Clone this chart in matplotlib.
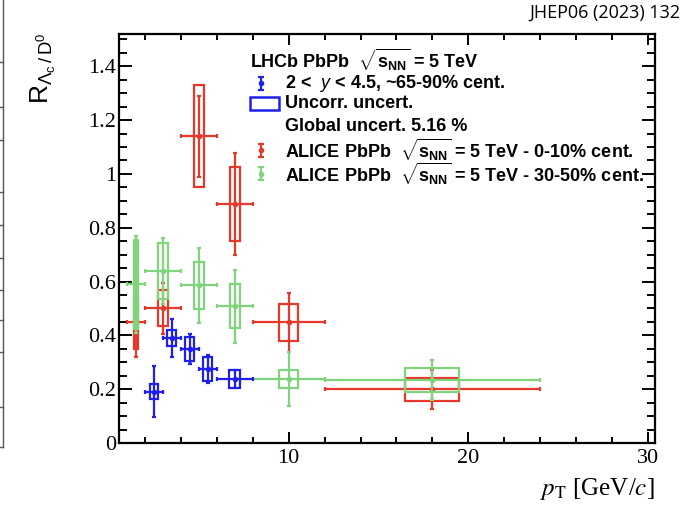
import numpy as np
import matplotlib
matplotlib.use("Agg")
import matplotlib.pyplot as plt
from matplotlib.patches import Rectangle
from matplotlib.lines import Line2D

plt.rcParams['mathtext.fontset'] = 'custom'
plt.rcParams['mathtext.rm'] = 'Liberation Sans'
plt.rcParams['mathtext.bf'] = 'Liberation Sans:bold'
plt.rcParams['mathtext.it'] = 'Liberation Sans:italic'

# LHCb PbPb, 2<y<4.5, ~65-90% centrality
lhcb_pt = np.array([2.5, 3.5, 4.5, 5.5, 7.0])
lhcb_lo = np.array([2, 3, 4, 5, 6])
lhcb_hi = np.array([3, 4, 5, 6, 8])
lhcb_r = np.array([0.19, 0.39, 0.35, 0.275, 0.238])
lhcb_stat = np.array([0.095, 0.072, 0.055, 0.053, 0.035])
lhcb_syst = np.array([0.028, 0.03, 0.045, 0.043, 0.035])
lhcb_boxw = np.array([0.25, 0.25, 0.25, 0.25, 0.3])

# ALICE PbPb 0-10%
a010_pt = np.array([1.5, 3, 5, 7, 10, 18])
a010_lo = np.array([1, 2, 4, 6, 8, 12])
a010_hi = np.array([2, 4, 6, 8, 12, 24])
a010_r = np.array([0.45, 0.50, 1.14, 0.888, 0.448, 0.20])
a010_stat = np.array([0.13, 0.095, 0.15, 0.19, 0.11, 0.073])
a010_syst = np.array([0.10, 0.067, 0.19, 0.137, 0.07, 0.043])
a010_boxw = np.array([0.13, 0.28, 0.28, 0.28, 0.52, 1.5])

# ALICE PbPb 30-50%
a3050_pt = np.array([1.5, 3, 5, 7, 10, 18])
a3050_lo = np.array([1, 2, 4, 6, 8, 12])
a3050_hi = np.array([2, 4, 6, 8, 12, 24])
a3050_r = np.array([0.59, 0.64, 0.586, 0.508, 0.238, 0.235])
a3050_stat = np.array([0.18, 0.123, 0.14, 0.135, 0.10, 0.074])
a3050_syst = np.array([0.165, 0.105, 0.088, 0.082, 0.033, 0.045])
a3050_boxw = np.array([0.13, 0.28, 0.28, 0.28, 0.52, 1.5])

BLUE = '#1f1ff0'
RED = '#e8382c'
GREEN = '#80d47c'

fig = plt.figure(figsize=(6.85, 5.09), dpi=100)
ax = fig.add_axes([0.1737, 0.1297, 0.9562 - 0.1737, 0.9332 - 0.1297])


def draw(pt, lo, hi, r, stat, syst, boxw, color, z):
    ax.errorbar(pt, r, xerr=[pt - lo, hi - pt], yerr=stat, fmt='o', ms=3,
                color=color, lw=1.6, capsize=1.5, capthick=1.6, zorder=z)
    for x, y, s, w in zip(pt, r, syst, boxw):
        ax.add_patch(Rectangle((x - w, y - s), 2 * w, 2 * s, fill=False,
                               edgecolor=color, lw=1.6, zorder=z))


draw(a3050_pt, a3050_lo, a3050_hi, a3050_r, a3050_stat, a3050_syst, a3050_boxw, GREEN, 3)
draw(a010_pt, a010_lo, a010_hi, a010_r, a010_stat, a010_syst, a010_boxw, RED, 2)
draw(lhcb_pt, lhcb_lo, lhcb_hi, lhcb_r, lhcb_stat, lhcb_syst, lhcb_boxw, BLUE, 4)

ax.set_xlim(0.55, 30.4)
ax.set_ylim(0, 1.52)
ax.set_xticks([10, 20, 30])
ax.set_xticks(np.arange(2, 31, 2), minor=True)
ax.set_yticks(np.arange(0, 1.41, 0.2))
ax.set_yticks(np.arange(0, 1.51, 0.05), minor=True)
ax.set_yticklabels(['0', '0.2', '0.4', '0.6', '0.8', '1', '1.2', '1.4'])
ax.set_xticklabels(['10', '20', '30'])
for lab in ax.get_xticklabels() + ax.get_yticklabels():
    lab.set_fontfamily('Liberation Serif')
    lab.set_fontsize(16)
ax.tick_params(which='both', direction='in', top=True, right=True, width=1.4)
ax.tick_params(axis='y', which='major', length=9.5, pad=2)
ax.tick_params(axis='y', which='minor', length=5.5)
ax.tick_params(axis='x', which='major', length=8, pad=4)
ax.tick_params(axis='x', which='minor', length=4)
for sp in ax.spines.values():
    sp.set_linewidth(1.6)

# legend drawn by hand
bold = dict(fontsize=13, fontweight='bold', family='Liberation Sans',
            va='center', ha='left', transform=ax.transAxes)
sq = r'$\mathbf{\sqrt{s_{NN}}}$'
ax.text(0.244, 0.936, 'LHCb PbPb  ' + sq + ' = 5 TeV', **bold)
ax.text(0.310, 0.880, r'2 <  $\mathbf{\mathit{y}}$ < 4.5, ~65-90% cent.', **bold)
ax.text(0.310, 0.829, 'Uncorr. uncert.', **bold)
ax.text(0.310, 0.773, 'Global uncert. 5.16 %', **bold)
ax.text(0.310, 0.716, 'ALICE PbPb  ' + sq + ' = 5 TeV - 0-10% cent.', **bold)
ax.text(0.310, 0.658, 'ALICE PbPb  ' + sq + ' = 5 TeV - 30-50% cent.', **bold)

for yc, col in [(0.880, BLUE), (0.716, RED), (0.658, GREEN)]:
    ax.errorbar([0.265], [yc], yerr=[0.016], fmt='o', ms=3, color=col, lw=1.6,
                capsize=2.5, capthick=1.6, transform=ax.transAxes, clip_on=False)
ax.add_patch(Rectangle((0.244, 0.814), 0.055, 0.032, fill=False, edgecolor=BLUE,
                       lw=1.8, transform=ax.transAxes))

fig.text(0.956, 0.04, r'$p_{\mathrm{T}}$ [GeV/$c$]', ha='right', va='center',
         fontsize=18, family='Liberation Serif',
         math_fontfamily='stix')
fig.text(0.064, 0.866, r'R$_{\Lambda_{\mathrm{c}}\,/\,\mathrm{D}^0}$', rotation=90,
         ha='center', va='center', fontsize=19, family='Liberation Sans')
fig.text(0.993, 0.974, 'JHEP06 (2023) 132', ha='right', va='center',
         fontsize=13, family='Open Sans')

# edge of the neighbouring table visible in the page crop
fig.add_artist(Line2D([0.004, 0.004], [1 - 447 / 509, 1.0], color='#555555', lw=1.0))
for yp in [62, 107, 140, 192, 225, 258, 290, 320, 352, 407, 447]:
    fig.add_artist(Line2D([0.0, 0.004], [1 - yp / 509, 1 - yp / 509], color='#555555', lw=1.0))

fig.savefig('out.png', dpi=100)
